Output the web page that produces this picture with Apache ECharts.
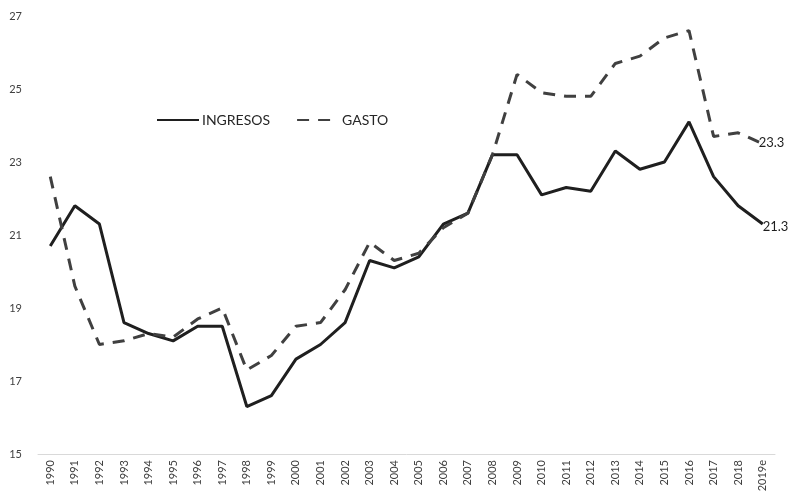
<!DOCTYPE html>
<html>
<head>
<meta charset="utf-8">
<script src="https://cdn.jsdelivr.net/npm/echarts@6/dist/echarts.min.js"></script>
<style>
  html, body { margin: 0; padding: 0; background: #fff; }
  #chart { width: 790px; height: 503px; }
</style>
</head>
<body>
<div id="chart"></div>
<script>
// años
const years = ['1990', '1991', '1992', '1993', '1994', '1995', '1996', '1997', '1998', '1999',
  '2000', '2001', '2002', '2003', '2004', '2005', '2006', '2007', '2008', '2009',
  '2010', '2011', '2012', '2013', '2014', '2015', '2016', '2017', '2018', '2019e']

// % del PIB
const ingresos = [20.7, 21.8, 21.3, 18.6, 18.3, 18.1, 18.5, 18.5, 16.3, 16.6,
  17.6, 18.0, 18.6, 20.3, 20.1, 20.4, 21.3, 21.6, 23.2, 23.2,
  22.1, 22.3, 22.2, 23.3, 22.8, 23.0, 24.1, 22.6, 21.8, 21.3]
const gasto = [22.6, 19.6, 18.0, 18.1, 18.3, 18.2, 18.7, 19.0, 17.3, 17.7,
  18.5, 18.6, 19.5, 20.8, 20.3, 20.5, 21.2, 21.6, 23.2, 25.4,
  24.9, 24.8, 24.8, 25.7, 25.9, 26.4, 26.6, 23.7, 23.8, 23.5]

// etiquetas finales
const endLabels = { INGRESOS: '21.3', GASTO: '23.3' }
const yTicks = { min: 15, max: 27, interval: 2 }

const font = 'Lato, "Open Sans", sans-serif'

const chart = echarts.init(document.getElementById('chart'))

const option = {
  animation: false,
  textStyle: { fontFamily: font },
  grid: { left: 38, right: 15, top: 16, bottom: 49, containLabel: false },
  legend: {
    left: 151,
    top: 108,
    itemWidth: 42,
    itemHeight: 10,
    itemGap: 26,
    itemStyle: { opacity: 0 },
    textStyle: { fontFamily: font, fontSize: 14, color: '#262626', padding: [0, 0, 0, -2] },
    data: ['INGRESOS', 'GASTO']
  },
  xAxis: {
    type: 'category',
    data: years,
    boundaryGap: true,
    axisLine: { lineStyle: { color: '#d9d9d9', width: 1 } },
    axisTick: { show: false },
    axisLabel: {
      interval: 0,
      rotate: 90,
      margin: 6,
      fontSize: 11,
      color: '#404040',
      fontFamily: font
    }
  },
  yAxis: {
    type: 'value',
    min: yTicks.min,
    max: yTicks.max,
    interval: yTicks.interval,
    axisLine: { show: false },
    axisTick: { show: false },
    splitLine: { show: false },
    axisLabel: {
      fontSize: 11,
      color: '#404040',
      margin: 16,
      fontFamily: font
    }
  },
  series: [
    {
      name: 'INGRESOS',
      type: 'line',
      data: ingresos,
      symbol: 'none',
      lineStyle: { color: '#1f1f1f', width: 3 },
      itemStyle: { color: '#1f1f1f' },
      endLabel: {
        show: true,
        formatter: () => endLabels.INGRESOS,
        distance: 0,
        fontSize: 13,
        color: '#1f1f1f',
        fontFamily: font,
        offset: [0, 3]
      }
    },
    {
      name: 'GASTO',
      type: 'line',
      data: gasto,
      symbol: 'none',
      lineStyle: { color: '#404040', width: 3, type: [12, 9] },
      itemStyle: { color: '#404040' },
      endLabel: {
        show: true,
        formatter: () => endLabels.GASTO,
        distance: -4,
        fontSize: 13,
        color: '#1f1f1f',
        fontFamily: font,
        offset: [0, -1]
      }
    }
  ]
}

chart.setOption(option)
</script>
</body>
</html>
